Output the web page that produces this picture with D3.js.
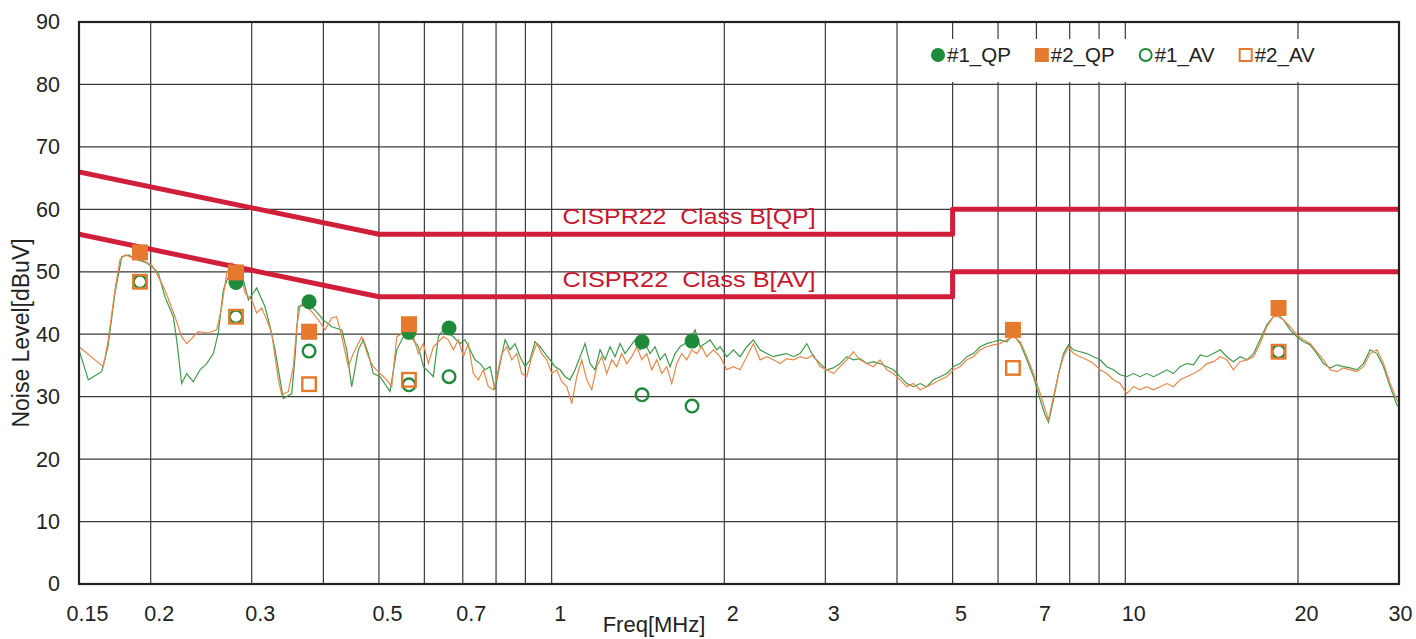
<!DOCTYPE html>
<html>
<head>
<meta charset="utf-8">
<script src="https://cdn.jsdelivr.net/npm/d3@7"></script>
<style>
  body { margin: 0; background: #fff; }
  svg text { font-family: "Liberation Sans", Arial, sans-serif; }
</style>
</head>
<body>
<svg id="chart" width="1416" height="639"></svg>
<script>
// axis ticks / grid
const X_TICKS = [0.15, 0.2, 0.3, 0.5, 0.7, 1, 2, 3, 5, 7, 10, 20, 30];
const X_GRID = [0.2, 0.3, 0.4, 0.5, 0.6, 0.7, 0.8, 0.9, 1, 2, 3, 4, 5, 6, 7, 8, 9, 10, 20];
const Y_TICKS = [0, 10, 20, 30, 40, 50, 60, 70, 80, 90];

// CISPR22 class B limits [MHz, dBuV]
const LIMIT_QP = [[0.15, 66], [0.5, 56], [5, 56], [5, 60], [30, 60]];
const LIMIT_AV = [[0.15, 56], [0.5, 46], [5, 46], [5, 50], [30, 50]];
const LIMIT_LABELS = ["CISPR22  Class B[QP]", "CISPR22  Class B[AV]"];

// sweep #1 (green)
const TRACE_1 = [
  [0.150, 37.5], [0.1557, 32.7], [0.1643, 34.0], [0.1685, 38.0], [0.1733, 46.6], [0.1781, 52.4],
  [0.1829, 52.7], [0.1903, 51.9], [0.1969, 51.4], [0.2021, 50.6], [0.2062, 49.8], [0.2118, 46.0],
  [0.2190, 42.8], [0.2220, 39.1], [0.2265, 32.1], [0.2311, 33.7], [0.2373, 32.4], [0.2438, 34.3],
  [0.2504, 35.3], [0.2572, 36.9], [0.2624, 40.2], [0.2677, 47.1], [0.2731, 49.2], [0.2806, 48.7],
  [0.2901, 48.7], [0.2960, 45.5], [0.3061, 47.4], [0.3165, 44.4], [0.3229, 41.2], [0.3295, 37.5],
  [0.3362, 32.7], [0.3406, 29.7], [0.3523, 30.5], [0.3570, 36.4], [0.3618, 44.4], [0.3716, 45.0],
  [0.3868, 43.9], [0.3999, 42.3], [0.4137, 41.2], [0.4306, 40.7], [0.4393, 37.5], [0.4482, 31.6],
  [0.4603, 37.5], [0.4696, 39.1], [0.4791, 36.9], [0.4888, 33.7], [0.5022, 33.2], [0.5227, 30.8],
  [0.5370, 37.5], [0.5514, 39.6],
  [0.5590, 40.2], [0.5740, 39.1], [0.5857, 38.0], [0.5976, 34.8], [0.6097, 34.0], [0.6220, 33.2],
  [0.6346, 39.6], [0.6475, 40.7], [0.6740, 39.6], [0.6924, 38.5], [0.7064, 39.1], [0.7207, 37.5],
  [0.7353, 35.9], [0.7503, 35.3], [0.7655, 34.3], [0.7810, 34.8], [0.7968, 31.1], [0.8130, 35.3],
  [0.8295, 39.1], [0.8463, 37.5], [0.8634, 38.5], [0.8809, 36.4], [0.8988, 34.8], [0.9170, 35.9],
  [0.9356, 38.8], [0.9546, 38.0], [0.9739, 36.9], [0.9937, 35.9], [1.0138, 34.8], [1.0344, 34.3],
  [1.0553, 33.2], [1.0767, 32.7], [1.0985, 34.3], [1.1208, 36.4], [1.1436, 38.5], [1.1667, 35.3],
  [1.1904, 34.3], [1.2145, 37.5], [1.2392, 35.9], [1.2642, 38.0], [1.2899, 36.4], [1.3161, 38.5],
  [1.3427, 36.9], [1.3700, 38.0], [1.3977, 39.1], [1.4260, 37.5], [1.4549, 38.5], [1.4844, 36.9],
  [1.5145, 38.0], [1.5452, 35.9], [1.5765, 36.9], [1.6085, 34.8], [1.6411, 36.9], [1.6744, 38.0],
  [1.7083, 38.5], [1.7429, 39.1], [1.7783, 40.7], [1.8143, 38.0], [1.8511, 38.5], [1.8887, 39.1],
  [1.9401, 37.5],
  [1.9661, 38.0], [2.0197, 36.4], [2.0739, 37.5], [2.1304, 36.4], [2.1885, 38.0], [2.2473, 39.1],
  [2.3086, 37.5], [2.3715, 36.9], [2.4352, 36.4], [2.5017, 36.7], [2.5699, 36.9], [2.6389, 36.4],
  [2.7108, 36.9], [2.7847, 38.5], [2.8594, 36.4], [2.9374, 35.3], [3.0175, 34.3], [3.0984, 34.6],
  [3.1828, 35.3], [3.2696, 36.4], [3.3573, 35.9], [3.4488, 36.1], [3.5428, 35.3], [3.6379, 35.6],
  [3.7371, 35.3], [3.8389, 34.8], [3.9420, 34.3], [4.0495, 33.2], [4.1598, 32.1], [4.2714, 31.6],
  [4.3879, 32.1], [4.5075, 31.6], [4.6284, 32.7], [4.7547, 33.2], [4.8843, 33.7], [5.0153, 34.8],
  [5.1520, 35.3], [5.2925, 36.4], [5.4345, 36.9], [5.5827, 38.0], [5.7349, 38.5], [5.8889, 38.8],
  [6.0495, 39.1], [6.2144, 38.8],
  [6.383, 39.9], [6.558, 38.5], [6.737, 35.9], [6.917, 33.2], [7.106, 29.5], [7.250, 27.0],
  [7.347, 25.9], [7.496, 29.5], [7.648, 33.7], [7.803, 36.9], [7.961, 38.3], [8.123, 37.5],
  [8.344, 37.2], [8.572, 36.9], [8.802, 36.4], [9.038, 35.9], [9.285, 34.8], [9.534, 34.3],
  [9.794, 33.5], [10.06, 33.2], [10.33, 33.7], [10.61, 33.2], [10.90, 33.7], [11.20, 33.2],
  [11.50, 33.7], [11.82, 34.3], [12.13, 33.7], [12.46, 34.8], [12.80, 35.3], [13.15, 35.1],
  [13.51, 36.7], [13.87, 36.4], [14.25, 36.9], [14.64, 37.5], [15.03, 36.4], [15.43, 35.6],
  [15.86, 36.4], [16.29, 35.9], [16.73, 36.9], [17.18, 39.1], [17.65, 41.5], [18.12, 42.8],
  [18.49, 43.1], [18.87, 42.3], [19.38, 40.7], [19.91, 39.6], [20.44, 38.8], [21.00, 38.3],
  [21.57, 36.9], [22.15, 35.3], [22.76, 34.6], [23.38, 35.1], [24.00, 34.8], [24.66, 34.6],
  [25.33, 34.3], [26.01, 35.3], [26.72, 37.5], [27.45, 36.9], [28.19, 34.8], [28.95, 31.6],
  [29.74, 28.7], [30, 28.3]
];

// sweep #2 (orange)
const TRACE_2 = [
  [0.150, 38.0], [0.1654, 34.8], [0.1687, 39.1], [0.1733, 47.1], [0.1768, 51.9], [0.1804, 52.7],
  [0.1865, 52.2], [0.1929, 51.9], [0.2008, 51.1], [0.2062, 49.2], [0.2118, 47.1], [0.2205, 42.8],
  [0.2265, 39.6], [0.2311, 38.5], [0.2421, 40.4], [0.2521, 40.2], [0.2607, 40.7], [0.2660, 44.4],
  [0.2714, 49.8], [0.2769, 51.4], [0.2863, 50.3], [0.2921, 46.6], [0.3000, 45.5], [0.3061, 43.4],
  [0.3123, 44.2], [0.3187, 42.3], [0.3251, 40.2], [0.3295, 36.4], [0.3339, 32.7], [0.3384, 30.3],
  [0.3475, 30.8], [0.3546, 34.8], [0.3594, 41.2], [0.3642, 44.4], [0.3716, 44.7], [0.3817, 43.6],
  [0.3920, 42.3], [0.4027, 40.7], [0.4137, 42.6], [0.4220, 42.8], [0.4306, 39.6], [0.4421, 34.8],
  [0.4511, 36.9], [0.4666, 39.6], [0.4791, 36.4], [0.4888, 34.8], [0.5022, 33.7], [0.5159, 32.7],
  [0.5263, 31.6], [0.5370, 39.6], [0.5514, 40.2],
  [0.5590, 40.2], [0.5740, 39.6], [0.5857, 36.9], [0.5976, 38.5], [0.6097, 35.3], [0.6220, 38.0],
  [0.6346, 38.8], [0.6475, 39.6], [0.6606, 39.1], [0.6740, 37.5], [0.6877, 39.1], [0.7016, 36.4],
  [0.7158, 38.5], [0.7303, 33.7], [0.7451, 32.7], [0.7603, 34.3], [0.7757, 31.6], [0.7914, 31.1],
  [0.8023, 33.2], [0.8185, 36.9], [0.8351, 38.0], [0.8521, 35.9], [0.8693, 36.9], [0.8870, 33.7],
  [0.9049, 33.2], [0.9233, 36.4], [0.9420, 38.5], [0.9611, 36.9], [0.9806, 35.9], [1.0005, 33.7],
  [1.0208, 34.3], [1.0415, 32.4], [1.0626, 31.6], [1.0841, 28.9], [1.1061, 33.2], [1.1285, 35.9],
  [1.1514, 32.7], [1.1747, 31.1], [1.1985, 34.8], [1.2228, 36.4], [1.2476, 33.7], [1.2729, 35.9],
  [1.2987, 34.8], [1.3250, 36.9], [1.3519, 35.3], [1.3793, 36.4], [1.4073, 38.0], [1.4358, 35.9],
  [1.4649, 36.9], [1.4946, 34.3], [1.5249, 35.9], [1.5558, 33.7], [1.5873, 34.8], [1.6195, 32.1],
  [1.6523, 35.3], [1.6858, 36.9], [1.7200, 35.9], [1.7549, 37.5], [1.7904, 36.9], [1.8267, 38.0],
  [1.8638, 36.4], [1.9138, 37.5],
  [1.9661, 36.4], [2.0197, 34.3], [2.0739, 34.8], [2.1304, 34.3], [2.1885, 36.4], [2.2473, 38.5],
  [2.3086, 35.9], [2.3715, 36.4], [2.4352, 35.9], [2.5017, 35.3], [2.5699, 36.1], [2.6389, 35.9],
  [2.7108, 36.4], [2.7847, 36.1], [2.8594, 36.7], [2.9374, 34.8], [3.0175, 34.3], [3.0984, 33.7],
  [3.1828, 34.8], [3.2696, 35.9], [3.3573, 37.2], [3.4488, 35.9], [3.5428, 35.3], [3.6379, 34.8],
  [3.7371, 35.9], [3.8389, 34.3], [3.9420, 33.7], [4.0495, 32.7], [4.1598, 31.6], [4.2714, 32.1],
  [4.3879, 31.1], [4.5075, 31.6], [4.6284, 32.1], [4.7547, 32.7], [4.8843, 33.2], [5.0153, 34.3],
  [5.1520, 34.8], [5.2925, 35.9], [5.4345, 36.4], [5.5827, 37.5], [5.7349, 38.0], [5.8889, 38.3],
  [6.0495, 38.5], [6.2144, 39.1],
  [6.383, 39.6], [6.558, 38.8], [6.737, 36.4], [6.917, 33.7], [7.106, 30.5], [7.250, 27.9],
  [7.347, 26.3], [7.496, 30.0], [7.648, 33.7], [7.803, 36.4], [7.961, 38.0], [8.123, 36.9],
  [8.344, 36.4], [8.572, 35.9], [8.802, 35.3], [9.038, 34.3], [9.285, 33.7], [9.534, 32.7],
  [9.794, 32.1], [10.06, 30.5], [10.33, 31.6], [10.61, 31.1], [10.90, 31.6], [11.20, 31.1],
  [11.50, 31.6], [11.82, 32.1], [12.13, 31.6], [12.46, 32.7], [12.80, 33.2], [13.15, 33.7],
  [13.51, 34.3], [13.87, 35.3], [14.25, 35.6], [14.64, 36.4], [15.03, 35.9], [15.43, 34.3],
  [15.86, 35.6], [16.29, 35.9], [16.73, 36.4], [17.18, 38.5], [17.65, 41.2], [18.12, 42.8],
  [18.49, 42.8], [18.87, 42.3], [19.38, 41.2], [19.91, 39.9], [20.44, 39.1], [21.00, 38.5],
  [21.57, 37.2], [22.15, 35.9], [22.76, 34.3], [23.38, 34.0], [24.00, 34.6], [24.66, 34.3],
  [25.33, 34.0], [26.01, 34.8], [26.72, 36.9], [27.45, 37.5], [28.19, 35.3], [28.95, 32.1],
  [29.74, 29.5], [30, 29.0]
];

// detector readings [MHz, dBuV]
const QP_1 = [[0.2817, 48.3], [0.3777, 45.2], [0.564, 40.3], [0.6625, 41.0], [1.4375, 38.8], [1.757, 38.9]];
const QP_2 = [[0.1916, 53.1], [0.2817, 49.9], [0.3777, 40.4], [0.564, 41.6], [6.37, 40.7], [18.5, 44.2]];
const AV_1 = [[0.1916, 48.4], [0.2817, 42.8], [0.3777, 37.3], [0.564, 31.9], [0.6625, 33.2], [1.4375, 30.3], [1.757, 28.5], [18.5, 37.2]];
const AV_2 = [[0.1916, 48.4], [0.2817, 42.8], [0.3777, 32.0], [0.564, 32.7], [6.37, 34.6], [18.5, 37.2]];

const LEGEND = ["#1_QP", "#2_QP", "#1_AV", "#2_AV"];

const GREEN = "#1f8a3a";
const ORANGE = "#e57a2e";
const RED = "#d01f3a";

const svg = d3.select("#chart");
const plotLeft = 79, plotRight = 1399, plotTop = 22, plotBottom = 584;

const x = d3.scaleLog().domain([0.15, 30]).range([plotLeft, plotRight]);
const y = d3.scaleLinear().domain([0, 90]).range([plotBottom, plotTop]);

// grid
const grid = svg.append("g").attr("stroke", "#3a3a3a").attr("stroke-width", 1.2);
grid.selectAll("line.v")
  .data(X_GRID)
  .join("line")
  .attr("class", "v")
  .attr("x1", (d) => x(d)).attr("x2", (d) => x(d))
  .attr("y1", plotTop).attr("y2", plotBottom);
grid.selectAll("line.h")
  .data(Y_TICKS.slice(1, -1))
  .join("line")
  .attr("class", "h")
  .attr("x1", plotLeft).attr("x2", plotRight)
  .attr("y1", (d) => y(d)).attr("y2", (d) => y(d));

// legend backdrop (hides the grid behind it)
const legendG = svg.append("g");
legendG.append("rect")
  .attr("x", 918).attr("y", 39)
  .attr("width", 406).attr("height", 43)
  .attr("fill", "#fff");

svg.append("clipPath").attr("id", "plotClip")
  .append("rect")
  .attr("x", plotLeft).attr("y", plotTop)
  .attr("width", plotRight - plotLeft).attr("height", plotBottom - plotTop);

const plot = svg.append("g").attr("clip-path", "url(#plotClip)");

const line = d3.line().x((d) => x(d[0])).y((d) => y(d[1]));

plot.append("path")
  .datum(TRACE_1)
  .attr("d", line)
  .attr("fill", "none")
  .attr("stroke", "#3f9a4c")
  .attr("stroke-width", 1.2);

plot.append("path")
  .datum(TRACE_2)
  .attr("d", line)
  .attr("fill", "none")
  .attr("stroke", "#e8874a")
  .attr("stroke-width", 1.2);

[LIMIT_QP, LIMIT_AV].forEach((lim) => {
  plot.append("path")
    .datum(lim)
    .attr("d", line)
    .attr("fill", "none")
    .attr("stroke", RED)
    .attr("stroke-width", 5)
    .attr("stroke-linejoin", "round");
});

// limit captions
svg.selectAll("text.limit")
  .data(LIMIT_LABELS)
  .join("text")
  .attr("class", "limit")
  .attr("x", x(1))
  .attr("dx", 11)
  .attr("y", (d, i) => y([56, 46][i]) - 10)
  .attr("fill", "#c8172e")
  .attr("font-size", 22)
  .attr("textLength", 253)
  .attr("lengthAdjust", "spacingAndGlyphs")
  .style("white-space", "pre")
  .text((d) => d);

// markers
function circles(data, filled) {
  plot.append("g")
    .selectAll("circle")
    .data(data)
    .join("circle")
    .attr("cx", (d) => x(d[0]))
    .attr("cy", (d) => y(d[1]))
    .attr("r", filled ? 7.5 : 6.3)
    .attr("fill", filled ? GREEN : "none")
    .attr("stroke", GREEN)
    .attr("stroke-width", filled ? 0 : 2.4);
}
function squares(data, filled) {
  const s = filled ? 16 : 13.5;
  plot.append("g")
    .selectAll("rect")
    .data(data)
    .join("rect")
    .attr("x", (d) => x(d[0]) - s / 2)
    .attr("y", (d) => y(d[1]) - s / 2)
    .attr("width", s).attr("height", s)
    .attr("fill", filled ? ORANGE : "none")
    .attr("stroke", ORANGE)
    .attr("stroke-width", filled ? 0 : 2.4);
}
circles(QP_1, true);
squares(QP_2, true);
circles(AV_1, false);
squares(AV_2, false);

// frame
svg.append("rect")
  .attr("x", plotLeft).attr("y", plotTop)
  .attr("width", plotRight - plotLeft).attr("height", plotBottom - plotTop)
  .attr("fill", "none")
  .attr("stroke", "#222")
  .attr("stroke-width", 2.2);

// axes
const yAxis = svg.append("g")
  .attr("transform", "translate(" + (plotLeft - 19) + ",0)")
  .call(d3.axisLeft(y).tickValues(Y_TICKS).tickSize(0).tickFormat(d3.format("d")));
yAxis.select(".domain").remove();
yAxis.selectAll("text")
  .attr("x", 0)
  .attr("font-size", 21.5)
  .attr("fill", "#222")
  .style("font-family", '"Liberation Sans", Arial, sans-serif');

const xAxis = svg.append("g")
  .attr("transform", "translate(0," + plotBottom + ")")
  .call(d3.axisBottom(x).tickValues(X_TICKS).tickSize(0).tickFormat((d) => String(d)));
xAxis.select(".domain").remove();
xAxis.selectAll("text")
  .attr("y", 22)
  .attr("dx", (d) => (d === 30 ? 1 : 8))
  .attr("font-size", 21.5)
  .attr("fill", "#222")
  .style("font-family", '"Liberation Sans", Arial, sans-serif');

svg.append("text")
  .attr("x", 654).attr("y", 632)
  .attr("text-anchor", "middle")
  .attr("font-size", 22)
  .attr("fill", "#222")
  .text("Freq[MHz]");

svg.append("text")
  .attr("transform", "translate(29," + 333 + ") rotate(-90)")
  .attr("text-anchor", "middle")
  .attr("font-size", 23)
  .attr("fill", "#222")
  .text("Noise Level[dBuV]");

// legend
let lx = 931;
const ly = 55;
LEGEND.forEach((name, i) => {
  const green = i % 2 === 0;
  const filled = i < 2;
  const col = green ? GREEN : ORANGE;
  if (green) {
    legendG.append("circle")
      .attr("cx", lx + 7).attr("cy", ly)
      .attr("r", filled ? 7 : 6)
      .attr("fill", filled ? col : "none")
      .attr("stroke", col)
      .attr("stroke-width", filled ? 0 : 2);
  } else {
    const s = filled ? 14 : 12;
    legendG.append("rect")
      .attr("x", lx + 7 - s / 2).attr("y", ly - s / 2)
      .attr("width", s).attr("height", s)
      .attr("fill", filled ? col : "none")
      .attr("stroke", col)
      .attr("stroke-width", filled ? 0 : 2);
  }
  const t = legendG.append("text")
    .attr("x", lx + 16).attr("y", ly + 7)
    .attr("font-size", 20.5)
    .attr("fill", "#222")
    .text(name);
  lx += 16 + t.node().getComputedTextLength() + 24;
});
</script>
</body>
</html>
